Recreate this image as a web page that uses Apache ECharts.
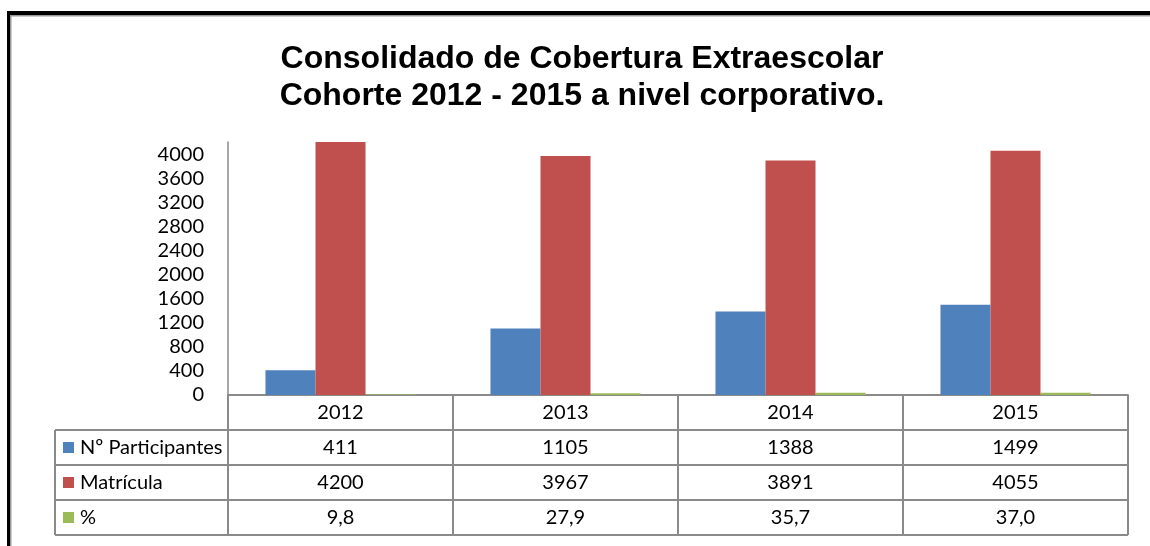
<!DOCTYPE html>
<html>
<head>
<meta charset="utf-8">
<script src="https://cdn.jsdelivr.net/npm/echarts@6/dist/echarts.min.js"></script>
<style>
  html, body { margin: 0; padding: 0; background: #fff; }
  #chart { width: 1150px; height: 546px; }
</style>
</head>
<body>
<div id="chart"></div>
<script>
const years = ['2012', '2013', '2014', '2015']
const participantes = [411, 1105, 1388, 1499]
const matricula = [4200, 3967, 3891, 4055]
const porcentaje = [9.8, 27.9, 35.7, 37.0]
const porcentajeLabels = ['9,8', '27,9', '35,7', '37,0']
const seriesNames = ['Nº Participantes', 'Matrícula', '%']
const seriesColors = ['#4F81BD', '#C0504D', '#9BBB59']

const font = 'Lato, "Open Sans", sans-serif'
const gridLine = '#8a8a8a'

const chart = echarts.init(document.getElementById('chart'))

chart.setOption({
  animation: false,
  backgroundColor: '#fff',
  title: {
    text: 'Consolidado de Cobertura Extraescolar\nCohorte 2012 - 2015 a nivel corporativo.',
    left: 577,
    top: 36,
    textAlign: 'center',
    textStyle: {
      fontFamily: '"Liberation Sans", Arial, sans-serif',
      fontWeight: 'bold',
      fontSize: 32,
      lineHeight: 37,
      color: '#000'
    }
  },
  grid: { left: 228, right: 22, top: 142, bottom: 151 },
  xAxis: {
    type: 'category',
    data: years,
    axisLine: { lineStyle: { color: gridLine, width: 2 } },
    axisTick: { show: false },
    axisLabel: { show: false }
  },
  yAxis: {
    type: 'value',
    min: 0,
    max: 4200,
    interval: 400,
    axisLine: { show: true, lineStyle: { color: gridLine, width: 1.5 } },
    axisTick: { show: false },
    splitLine: { show: false },
    axisLabel: {
      margin: 24,
      color: '#000',
      fontFamily: font,
      fontSize: 20,
      formatter: (v) => (v % 400 === 0 ? String(v) : '')
    }
  },
  series: [participantes, matricula, porcentaje].map((data, i) => ({
    name: seriesNames[i],
    type: 'bar',
    data,
    barGap: '0%',
    barCategoryGap: '33.3%',
    itemStyle: { color: seriesColors[i] }
  }))
})

function buildTable() {
  const c0 = chart.convertToPixel({ xAxisIndex: 0 }, years[0])
  const c1 = chart.convertToPixel({ xAxisIndex: 0 }, years[1])
  const band = c1 - c0
  const left = c0 - band / 2
  const right = left + band * years.length
  const y0 = chart.convertToPixel({ yAxisIndex: 0 }, 0)
  const rowH = 35
  const legendLeft = 55
  const els = []
  const line = (x1, y1, x2, y2) => els.push({
    type: 'line',
    shape: { x1, y1, x2, y2 },
    style: { stroke: gridLine, lineWidth: 2 }
  })
  const text = (x, y, t, align) => els.push({
    type: 'text',
    x, y,
    style: { text: t, fill: '#000', font: '20px ' + font, align: align || 'center', verticalAlign: 'middle' }
  })

  // frame like the pasted picture border
  els.push({ type: 'rect', shape: { x: 7, y: 11, width: 1143, height: 4 }, style: { fill: '#000' } })
  els.push({ type: 'rect', shape: { x: 7, y: 11, width: 3, height: 535 }, style: { fill: '#000' } })
  els.push({ type: 'rect', shape: { x: 10, y: 15, width: 1140, height: 1.5 }, style: { fill: '#999' } })
  els.push({ type: 'rect', shape: { x: 10, y: 15, width: 1.5, height: 531 }, style: { fill: '#999' } })

  const bottom = y0 + rowH * 4
  for (let r = 1; r <= 4; r++) line(legendLeft, y0 + rowH * r, right, y0 + rowH * r)
  line(legendLeft, y0 + rowH, legendLeft, bottom)
  for (let k = 0; k <= years.length; k++) {
    const x = left + band * k
    line(x, y0, x, bottom)
  }

  years.forEach((yr, i) => text(left + band * (i + 0.5), y0 + rowH / 2, yr))

  const rows = [
    participantes.map(String),
    matricula.map(String),
    porcentajeLabels
  ]
  rows.forEach((vals, r) => {
    const cy = y0 + rowH * (r + 1.5)
    els.push({ type: 'rect', shape: { x: 63, y: cy - 5.5, width: 11, height: 11 }, style: { fill: seriesColors[r] } })
    text(80, cy, seriesNames[r], 'left')
    vals.forEach((v, i) => text(left + band * (i + 0.5), cy, v))
  })

  chart.setOption({ graphic: { elements: els } })
}

buildTable()
</script>
</body>
</html>
